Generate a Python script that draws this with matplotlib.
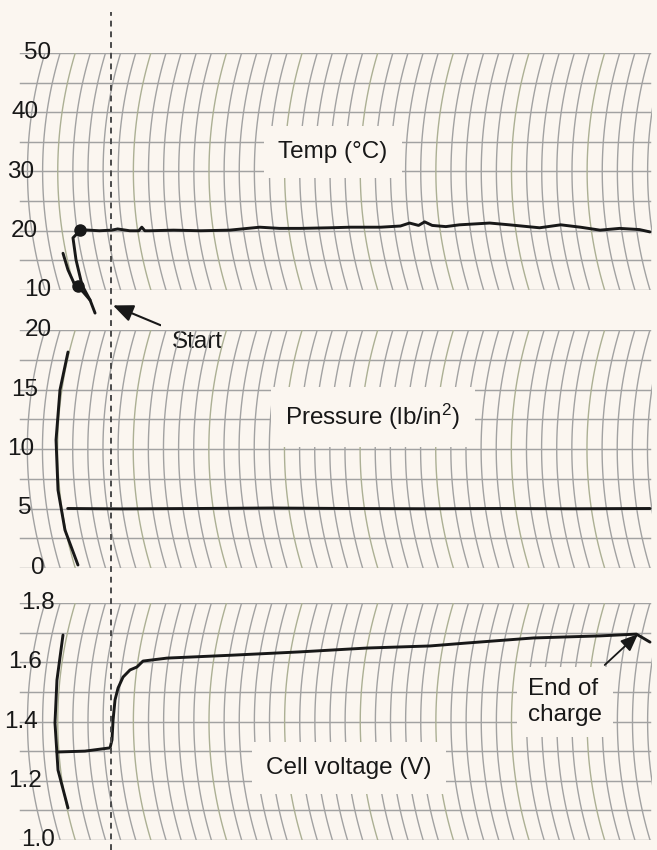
import numpy as np
import matplotlib.pyplot as plt

plt.rcParams['font.family'] = ['Liberation Sans', 'DejaVu Sans']
plt.rcParams['mathtext.fontset'] = 'custom'
plt.rcParams['mathtext.rm'] = 'Liberation Sans'

# chart time in paper divisions
start_time = 4.36

temp_t = [2.2, 3.6, 4.4, 4.8, 5.6, 6.2, 6.4, 6.6, 6.9, 8.5, 10.3, 12.2, 14.2, 15.5,
          16.9, 18.8, 20.2, 22.2, 23.5, 24.1, 24.7, 25.1, 25.6, 26.5, 27.4, 29.4,
          30.7, 32.7, 34.1, 35.4, 36.7, 38.0, 39.3, 40.0]
temp_v = [20.2, 20.0, 20.1, 20.3, 20.0, 20.0, 20.6, 20.0, 20.0, 20.1, 20.0, 20.1, 20.6, 20.4,
          20.4, 20.5, 20.6, 20.6, 20.8, 21.3, 20.9, 21.5, 20.9, 20.7, 21.0, 21.3,
          21.0, 20.5, 21.0, 20.6, 20.1, 20.4, 20.2, 19.8]
temp_pen_a_t = [2.3, 1.85, 2.05, 2.45, 2.98, 3.31]
temp_pen_a_v = [20.0, 18.8, 15.1, 10.8, 8.3, 6.1]
temp_pen_b_t = [1.19, 1.52, 1.98, 2.51, 2.98]
temp_pen_b_v = [16.2, 13.4, 10.8, 9.7, 8.3]
temp_blob_t = [2.3, 2.2]
temp_blob_v = [20.1, 10.6]

pres_pen_t = [1.52, 0.99, 0.73, 0.86, 1.32, 2.18]
pres_pen_v = [18.15, 14.96, 10.76, 6.55, 3.19, 0.25]
pres_t = [1.5, 5.0, 10.0, 15.0, 20.0, 25.0, 30.0, 35.0, 40.0]
pres_v = [5.0, 4.97, 5.0, 5.04, 5.0, 4.98, 5.0, 4.98, 5.0]

volt_pen_t = [1.19, 0.79, 0.66, 0.86, 1.52]
volt_pen_v = [1.692, 1.540, 1.395, 1.236, 1.108]
volt_t = [0.79, 2.64, 4.30, 4.43, 4.50, 4.63, 4.83, 5.16, 5.62, 6.08, 6.48, 8.07,
          12.43, 16.86, 21.29, 25.45, 27.9, 32.3, 36.7, 39.1, 40.0]
volt_v = [1.297, 1.300, 1.311, 1.338, 1.405, 1.473, 1.513, 1.550, 1.574, 1.584, 1.604, 1.614,
          1.624, 1.635, 1.648, 1.655, 1.665, 1.682, 1.689, 1.695, 1.668]

temp_ticks = [50, 40, 30, 20, 10]
pres_ticks = [20, 15, 10, 5, 0]
volt_ticks = [1.8, 1.6, 1.4, 1.2, 1.0]

BG = '#fbf6f0'
GRID = '#a2a2a2'
INK = '#181818'
W, H = 657, 850
PXDIV = 15.125
R = 410.0


def px2div(px):
    return (px - 45) / PXDIV


def arc_off(t, hpx):
    d = (np.asarray(t) - 0.5) * hpx
    return (np.sqrt(R ** 2 - d ** 2) - np.sqrt(R ** 2 - (hpx / 2) ** 2)) / PXDIV


fig = plt.figure(figsize=(W / 100, H / 100), dpi=100, facecolor=BG)


def make_panel(top, bottom, lo, hi, step, ticks, fmt):
    ax = fig.add_axes([0, 1 - bottom / H, 652 / W, (bottom - top) / H])
    ax.set_xlim(px2div(0), px2div(652))
    ax.set_ylim(lo, hi)
    ax.axis('off')
    hpx = bottom - top
    for v in np.arange(lo, hi + step / 2, step):
        ax.plot([px2div(20), px2div(650)], [v, v], color=GRID, lw=1.05, zorder=1)
    t = np.linspace(0, 1, 80)
    off = arc_off(t, hpx)
    ys = lo + t * (hi - lo)
    for i in range(42):
        c = '#acb094' if i % 5 == 2 else GRID
        ax.plot(i - off, ys, color=c, lw=1.0, zorder=1)
    for v in ticks:
        tt = (v - lo) / (hi - lo)
        ax.text(px2div(38) - arc_off(tt, hpx), v, fmt.format(v), ha='center', va='center',
                fontsize=17.5, color=INK, zorder=3)
    return ax


box = dict(boxstyle='square,pad=0.6', fc=BG, ec='none')
pen = dict(color=INK, lw=2.1, solid_capstyle='round', solid_joinstyle='round', clip_on=False, zorder=4)

ax1 = make_panel(53, 290, 10, 50, 5, temp_ticks, '{:d}')
ax1.text(px2div(333), 33.3, 'Temp (°C)', ha='center', va='center', fontsize=17.5, color=INK,
         bbox=box, zorder=3)
ax1.plot(temp_t, temp_v, **pen)
ax1.plot(temp_pen_a_t, temp_pen_a_v, **pen)
ax1.plot(temp_pen_b_t, temp_pen_b_v, **pen)
ax1.plot(temp_blob_t, temp_blob_v, 'o', ms=8, color=INK, clip_on=False, zorder=4)
ax1.annotate('Start', xy=(px2div(113), 7.4), xytext=(px2div(197), 1.3),
             ha='center', va='center', fontsize=17.5, color=INK,
             bbox=dict(boxstyle='square,pad=0.45', fc=BG, ec='none'), zorder=3,
             arrowprops=dict(arrowstyle='-|>,head_length=0.7,head_width=0.3', color=INK, lw=1.5,
                             shrinkA=0, shrinkB=0, relpos=(0.12, 0.92)), annotation_clip=False)

ax2 = make_panel(330, 568, 0, 20, 2.5, pres_ticks, '{:d}')
ax2.text(px2div(373), 12.7, 'Pressure (lb/in$\\mathregular{^2}$)', ha='center', va='center',
         fontsize=17.5, color=INK, bbox=box, zorder=3)
ax2.plot(pres_pen_t, pres_pen_v, **pen)
ax2.plot(pres_t, pres_v, **pen)

ax3 = make_panel(603, 840, 1.0, 1.8, 0.1, volt_ticks, '{:.1f}')
ax3.text(px2div(349), 1.243, 'Cell voltage (V)', ha='center', va='center', fontsize=17.5,
         color=INK, bbox=box, zorder=3)
ax3.plot(volt_pen_t, volt_pen_v, **pen)
ax3.plot(volt_t, volt_v, **pen)
ax3.annotate('End of\ncharge', xy=(px2div(638), 1.695), xytext=(px2div(528), 1.466),
             ha='left', va='center', fontsize=17.5, color=INK, linespacing=1.25,
             bbox=dict(boxstyle='square,pad=0.45', fc=BG, ec='none'), zorder=3,
             arrowprops=dict(arrowstyle='-|>,head_length=0.6,head_width=0.25', color=INK, lw=1.3,
                             shrinkA=2, shrinkB=0, relpos=(0.85, 1.0)), annotation_clip=False)

ov = fig.add_axes([0, 0, 1, 1])
ov.set_xlim(px2div(0), px2div(657))
ov.set_ylim(0, 1)
ov.axis('off')
ov.axvline(start_time, ymin=0, ymax=1 - 12 / H, color='#4a4a4a', lw=1.4, ls=(0, (3, 2.5)), zorder=5)

fig.savefig('out.png', dpi=100, facecolor=BG)
